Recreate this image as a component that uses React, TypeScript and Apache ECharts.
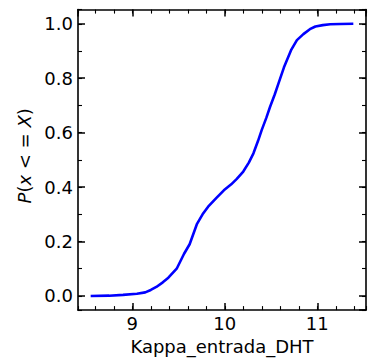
import React, { useEffect, useRef } from "react";
import * as echarts from "echarts";

const kappaValues = [
  8.55, 8.75, 8.9, 9.05, 9.14, 9.2, 9.26, 9.33, 9.39, 9.48, 9.56, 9.62, 9.7, 9.76,
  9.82, 9.91, 9.99, 10.07, 10.13, 10.2, 10.26, 10.31, 10.36, 10.4, 10.45, 10.49,
  10.54, 10.58, 10.64, 10.72, 10.78, 10.85, 10.92, 10.98, 11.06, 11.14, 11.25, 11.39,
];
const cdfValues = [
  0.0, 0.001, 0.004, 0.008, 0.013, 0.022, 0.033, 0.05, 0.067, 0.1, 0.155, 0.19, 0.265,
  0.3, 0.328, 0.36, 0.388, 0.41, 0.43, 0.457, 0.49, 0.524, 0.57, 0.61, 0.655, 0.695,
  0.74, 0.78, 0.84, 0.905, 0.94, 0.962, 0.98, 0.99, 0.995, 0.998, 0.999, 1.0,
];
const xLabel = "Kappa_entrada_DHT";

const X_MIN = 8.413;
const X_MAX = 11.527;
const Y_MIN = -0.052;
const Y_MAX = 1.052;
const FONT = "DejaVu Sans";

function App() {
  const ref = useRef<HTMLDivElement>(null);
  useEffect(() => {
    if (!ref.current) return;
    const chart = echarts.init(ref.current, null, { renderer: "svg" });
    const black = "#000";
    const mkX = (position: string, major: boolean, main: boolean) => ({
      type: "value",
      position,
      min: X_MIN,
      max: X_MAX,
      minInterval: major ? 1 : 0.2,
      maxInterval: major ? 1 : 0.2,
      axisLine: { show: major, onZero: false, lineStyle: { color: black, width: 1.6 } },
      axisTick: { show: true, inside: true, length: major ? 7 : 4, lineStyle: { color: black, width: major ? 1.5 : 1.1 } },
      axisLabel: {
        show: main,
        showMinLabel: false,
        showMaxLabel: false,
        margin: 4,
        color: black,
        fontFamily: FONT,
        fontSize: 18,
        formatter: (v: number) => (Math.abs(v - Math.round(v)) < 1e-6 ? String(Math.round(v)) : ""),
      },
      splitLine: { show: false },
      name: main ? xLabel : "",
      nameLocation: "middle",
      nameGap: 26,
      nameTextStyle: { color: black, fontFamily: FONT, fontSize: 18 },
    });
    const mkY = (position: string, major: boolean, main: boolean) => ({
      type: "value",
      position,
      min: Y_MIN,
      max: Y_MAX,
      minInterval: major ? 0.2 : 0.1,
      maxInterval: major ? 0.2 : 0.1,
      axisLine: { show: major, onZero: false, lineStyle: { color: black, width: 1.6 } },
      axisTick: { show: true, inside: true, length: major ? 7 : 4, lineStyle: { color: black, width: major ? 1.5 : 1.1 } },
      axisLabel: {
        show: main,
        showMinLabel: false,
        showMaxLabel: false,
        margin: 5,
        color: black,
        fontFamily: FONT,
        fontSize: 18,
        formatter: (v: number) => (Math.abs(v * 5 - Math.round(v * 5)) < 1e-6 ? v.toFixed(1) : ""),
      },
      splitLine: { show: false },
      name: main ? "{i|P}({i|x} < = {i|X})" : "",
      nameLocation: "middle",
      nameGap: 42,
      nameRotate: 90,
      nameTextStyle: {
        color: black,
        fontFamily: FONT,
        fontSize: 18,
        padding: [0, 0, 0, 8],
        rich: { i: { fontStyle: "italic", fontFamily: FONT, fontSize: 18, color: black } },
      },
    });
    chart.setOption({
      animation: false,
      grid: { left: 78, right: 2, top: 9.6, bottom: 49.6, containLabel: false },
      xAxis: [mkX("bottom", true, true), mkX("bottom", false, false), mkX("top", true, false), mkX("top", false, false)],
      yAxis: [mkY("left", true, true), mkY("left", false, false), mkY("right", true, false), mkY("right", false, false)],
      series: [
        {
          type: "line",
          xAxisIndex: 0,
          yAxisIndex: 0,
          data: kappaValues.map((x, i) => [x, cdfValues[i]]),
          showSymbol: false,
          symbol: "none",
          lineStyle: { color: "#0000ff", width: 2.6 },
        },
      ],
    });
    return () => chart.dispose();
  }, []);
  return <div ref={ref} style={{ position: "absolute", left: 0, top: 0, width: 368, height: 360, background: "#fff" }} />;
}

export default App;
